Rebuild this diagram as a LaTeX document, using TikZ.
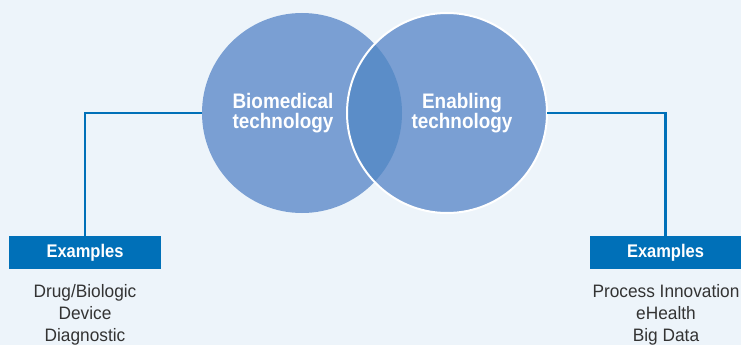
\documentclass[tikz,border=0pt]{standalone}
\usepackage{fontspec}
\setmainfont[FakeStretch=0.96]{Liberation Sans}
\newfontfamily\condfont[FakeStretch=0.9]{Liberation Sans}
\usepackage{xcolor}

\definecolor{bgblue}{HTML}{EDF4FA}
\definecolor{circblue}{HTML}{7A9FD3}
\definecolor{overblue}{HTML}{5B8DC8}
\definecolor{linkblue}{HTML}{0070B8}
\definecolor{textgray}{HTML}{333333}

\tikzset{
  venn/.style={circle, minimum size=200pt, inner sep=0pt, fill=circblue},
  venntext/.style={align=center, text=white, font=\condfont\bfseries\fontsize{21}{20}\selectfont},
  exbox/.style={fill=linkblue, text=white, minimum width=152pt, minimum height=33pt,
    inner sep=0pt, font=\condfont\bfseries\fontsize{18.3}{20}\selectfont},
  exlist/.style={align=center, anchor=north, inner sep=0pt, text=textgray,
    font=\fontsize{18}{22}\selectfont},
  link/.style={draw=linkblue, line width=2.5pt}
}

\begin{document}
\begin{tikzpicture}[x=1pt, y=-1pt]
\fill[bgblue] (0,0) rectangle (741,345);
\useasboundingbox (0,0) rectangle (741,345);

\node[venn] (bio) at (302,113) {};
\node[venn] (enab) at (447,113) {};
\begin{scope}
  \clip (302,113) circle (100pt);
  \fill[overblue] (447,113) circle (100pt);
\end{scope}
\draw[white, line width=2pt] (447,113) circle (100pt);

\node[venntext] (biotxt) at (283,113) {Biomedical\\technology};
\node[venntext] (enabtxt) at (462,113) {Enabling\\technology};

\node[exbox] (exl) at (85,252.5) {Examples};
\node[exbox, minimum width=151pt] (exr) at (665.5,252.5) {Examples};

\draw[link] (bio.west) -| (exl.north);
\draw[link] (enab.east) -| (exr.north);

\node[exlist] (listl) at (85,284) {Drug/Biologic\\Device\\Diagnostic};
\node[exlist] (listr) at (666,284) {Process Innovation\\eHealth\\Big Data};
\end{tikzpicture}
\end{document}
